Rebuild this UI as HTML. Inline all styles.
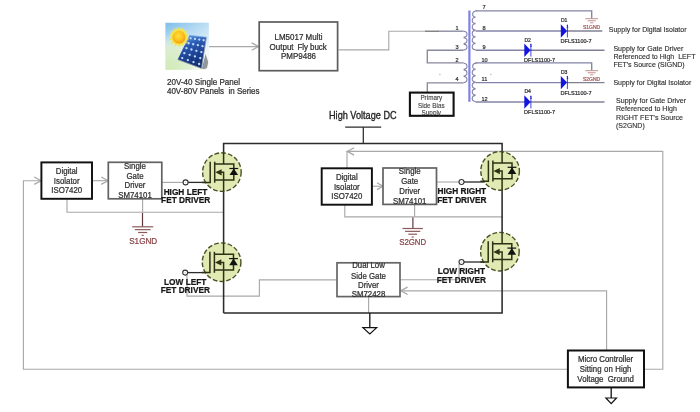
<!DOCTYPE html>
<html lang="en"><head><meta charset="utf-8"><title>Block diagram</title>
<style>
html,body{margin:0;padding:0;background:#fff;}
body{width:700px;height:412px;overflow:hidden;}
svg{display:block;font-family:"Liberation Sans",Arial,sans-serif;filter:blur(0.32px);}
text{white-space:pre;}
</style></head><body>
<svg width="700" height="412" viewBox="0 0 700 412">
<rect width="700" height="412" fill="#fff"/>
<defs>
<linearGradient id="sky" x1="0" y1="0" x2="0" y2="1">
<stop offset="0" stop-color="#7cbde9"/><stop offset="0.3" stop-color="#a9d5f0"/><stop offset="0.6" stop-color="#e4f1f4"/><stop offset="1" stop-color="#f1f7ec"/>
</linearGradient>
<linearGradient id="skyr" x1="0" y1="0" x2="1" y2="0">
<stop offset="0" stop-color="#ffffff" stop-opacity="0"/><stop offset="1" stop-color="#ffffff" stop-opacity="0.5"/>
</linearGradient>
<radialGradient id="grn" cx="0.1" cy="1" r="0.75">
<stop offset="0" stop-color="#cfeab6" stop-opacity="1"/><stop offset="0.6" stop-color="#d8edc6" stop-opacity="0.8"/><stop offset="1" stop-color="#e6f3dc" stop-opacity="0"/>
</radialGradient>
<radialGradient id="glow" cx="0.5" cy="0.5" r="0.5">
<stop offset="0.6" stop-color="#f4ec6a" stop-opacity="0.9"/><stop offset="1" stop-color="#e6f0a0" stop-opacity="0"/>
</radialGradient>
<radialGradient id="sun" cx="0.45" cy="0.4" r="0.62">
<stop offset="0" stop-color="#ffe040"/><stop offset="0.55" stop-color="#fdc41c"/><stop offset="1" stop-color="#f19a14"/>
</radialGradient>
<linearGradient id="pan" x1="0.3" y1="0" x2="0.6" y2="1">
<stop offset="0" stop-color="#5a9ae4"/><stop offset="0.3" stop-color="#2a58b2"/><stop offset="0.7" stop-color="#193a86"/><stop offset="1" stop-color="#122a66"/>
</linearGradient>
</defs>
<g>
<rect x="165.4" y="22.8" width="43.2" height="47" fill="url(#sky)"/>
<rect x="165.4" y="22.8" width="43.2" height="47" fill="url(#skyr)"/>
<rect x="165.4" y="22.8" width="43.2" height="47" fill="url(#grn)"/>
<path d="M201.8,68.6 L205.6,54 L208.2,62 L207,68 L204,69.2 Z" fill="#666c74" opacity="0.7"/>
<path d="M189.4,35.3 L206.4,37.2 L201.5,68.4 L177.7,59.6 Z" fill="url(#pan)"/>
<path d="M206.4,37.2 L201.5,68.4 L177.7,59.6" fill="none" stroke="#8f99a6" stroke-width="0.8" stroke-linejoin="round"/>
<path d="M189.4,35.3 L206.4,37.2" fill="none" stroke="#7fb0e6" stroke-width="0.7"/>
<path d="M191.49,36.33 L181.40,60.09" stroke="#3f6fc4" stroke-width="0.45" opacity="0.7"/>
<path d="M195.69,36.84 L187.16,62.19" stroke="#3f6fc4" stroke-width="0.45" opacity="0.7"/>
<path d="M199.88,37.36 L192.91,64.28" stroke="#3f6fc4" stroke-width="0.45" opacity="0.7"/>
<path d="M204.08,37.87 L198.67,66.38" stroke="#3f6fc4" stroke-width="0.45" opacity="0.7"/>
<path d="M188.67,38.00 L205.34,40.49" stroke="#3f6fc4" stroke-width="0.45" opacity="0.7"/>
<path d="M186.42,42.81 L204.34,46.56" stroke="#3f6fc4" stroke-width="0.45" opacity="0.7"/>
<path d="M184.16,47.61 L203.34,52.64" stroke="#3f6fc4" stroke-width="0.45" opacity="0.7"/>
<path d="M181.91,52.42 L202.34,58.72" stroke="#3f6fc4" stroke-width="0.45" opacity="0.7"/>
<path d="M179.65,57.22 L201.34,64.79" stroke="#3f6fc4" stroke-width="0.45" opacity="0.7"/>
<circle cx="190.66" cy="38.30" r="1.15" fill="#c8e6ff" opacity="0.95"/>
<circle cx="188.55" cy="43.25" r="1.15" fill="#c8e6ff" opacity="0.95"/>
<circle cx="186.45" cy="48.21" r="1.15" fill="#c8e6ff" opacity="0.95"/>
<circle cx="184.34" cy="53.17" r="1.15" fill="#c8e6ff" opacity="0.95"/>
<circle cx="182.24" cy="58.12" r="1.15" fill="#c8e6ff" opacity="0.95"/>
<circle cx="194.98" cy="38.94" r="1.15" fill="#c8e6ff" opacity="0.95"/>
<circle cx="193.20" cy="44.23" r="1.15" fill="#c8e6ff" opacity="0.95"/>
<circle cx="191.42" cy="49.51" r="1.15" fill="#c8e6ff" opacity="0.95"/>
<circle cx="189.64" cy="54.80" r="1.15" fill="#c8e6ff" opacity="0.95"/>
<circle cx="187.86" cy="60.09" r="1.15" fill="#c8e6ff" opacity="0.95"/>
<circle cx="199.31" cy="39.59" r="1.15" fill="#c8e6ff" opacity="0.95"/>
<circle cx="197.85" cy="45.20" r="1.15" fill="#c8e6ff" opacity="0.95"/>
<circle cx="196.40" cy="50.82" r="1.15" fill="#c8e6ff" opacity="0.95"/>
<circle cx="194.94" cy="56.44" r="1.15" fill="#c8e6ff" opacity="0.95"/>
<circle cx="193.49" cy="62.05" r="1.15" fill="#c8e6ff" opacity="0.95"/>
<circle cx="203.63" cy="40.23" r="1.15" fill="#c8e6ff" opacity="0.95"/>
<circle cx="202.50" cy="46.18" r="1.15" fill="#c8e6ff" opacity="0.95"/>
<circle cx="201.37" cy="52.12" r="1.15" fill="#c8e6ff" opacity="0.95"/>
<circle cx="200.24" cy="58.07" r="1.15" fill="#c8e6ff" opacity="0.95"/>
<circle cx="199.11" cy="64.02" r="1.15" fill="#c8e6ff" opacity="0.95"/>
<circle cx="179.0" cy="37.2" r="10.6" fill="url(#glow)"/>
<polygon points="189.00,39.23 185.38,40.08 187.13,43.36 183.50,42.56 183.65,46.28 180.72,43.98 179.25,47.40 177.61,44.06 174.80,46.50 174.77,42.78 171.18,43.75 172.77,40.39 169.11,39.71 172.00,37.37 169.00,35.17 172.62,34.32 170.87,31.04 174.50,31.84 174.35,28.12 177.28,30.42 178.75,27.00 180.39,30.34 183.20,27.90 183.23,31.62 186.82,30.65 185.23,34.01 188.89,34.69 186.00,37.03" fill="#f7e23a" opacity="0.9"/>
<circle cx="179.0" cy="37.2" r="6.4" fill="url(#sun)"/>
</g>
<path d="M209,46.6 L258,46.6" stroke="#a9a9a9" stroke-width="1.15" fill="none" />
<path d="M251.7,42.9 L258.5,46.6 L251.7,50.300000000000004" stroke="#a9a9a9" stroke-width="1.3" fill="none" />
<text transform="translate(167,84.6) scale(1,1.12)" font-size="8.08" fill="#2e2e2e" stroke="#2e2e2e" stroke-width="0.22" text-anchor="start" font-weight="normal" >20V-40 Single Panel</text>
<text transform="translate(167,94.4) scale(1,1.12)" font-size="7.97" fill="#2e2e2e" stroke="#2e2e2e" stroke-width="0.22" text-anchor="start" font-weight="normal" >40V-80V Panels  in Series</text>
<rect x="259.2" y="22" width="78.40000000000003" height="48.7" fill="#fff" stroke="#5c5c5c" stroke-width="1.7"/>
<text transform="translate(298.5,39.7) scale(1,1.12)" font-size="8" fill="#2e2e2e" stroke="#2e2e2e" stroke-width="0.22" text-anchor="middle" font-weight="normal" >LM5017 Multi</text>
<text transform="translate(298.2,49.6) scale(1,1.12)" font-size="8" fill="#2e2e2e" stroke="#2e2e2e" stroke-width="0.22" text-anchor="middle" font-weight="normal" word-spacing="-0.3">Output  Fly buck</text>
<text transform="translate(298.5,59.3) scale(1,1.12)" font-size="8" fill="#2e2e2e" stroke="#2e2e2e" stroke-width="0.22" text-anchor="middle" font-weight="normal" >PMP9486</text>
<path d="M338,49.8 L388.8,49.8 L388.8,31.2 L426,31.2" stroke="#a9a9a9" stroke-width="1.15" fill="none" />
<path d="M469.4,10.5 L469.4,101.8" stroke="#8080e6" stroke-width="2.2" fill="none" />
<path d="M477.1,10.7 C471.40000000000003,10.7 471.40000000000003,17.28333333333333 475.6,16.98333333333333 M475.6,16.98333333333333 C471.1,17.78333333333333 471.1,23.366666666666664 475.6,23.566666666666663 M475.6,23.566666666666666 C471.1,24.366666666666667 471.1,29.95 475.6,30.15 M475.6,30.15 C471.1,30.95 471.1,36.53333333333333 475.6,36.733333333333334 M475.6,36.733333333333334 C471.1,37.53333333333333 471.1,43.11666666666667 475.6,43.31666666666667 M475.6,43.31666666666666 C471.1,44.11666666666666 471.1,49.699999999999996 475.6,49.9" stroke="#8484a8" stroke-width="1.1" fill="none"/>
<path d="M477.1,62.9 C471.40000000000003,62.9 471.40000000000003,69.4 475.6,69.10000000000001 M475.6,69.10000000000001 C471.1,69.9 471.1,75.4 475.6,75.60000000000001 M475.6,75.60000000000001 C471.1,76.4 471.1,81.9 475.6,82.10000000000001 M475.6,82.10000000000001 C471.1,82.9 471.1,88.4 475.6,88.60000000000001 M475.6,88.60000000000001 C471.1,89.4 471.1,94.9 475.6,95.10000000000001 M475.6,95.10000000000001 C471.1,95.9 471.1,101.4 475.6,101.60000000000001" stroke="#8484a8" stroke-width="1.1" fill="none"/>
<path d=" M463.6,31.3 C468.1,31.5 468.1,36.9 463.6,37.1 M463.6,37.699999999999996 C468.1,37.9 468.1,43.3 463.6,43.5 M463.6,44.1 C468.1,44.300000000000004 468.1,49.7 463.6,49.900000000000006" stroke="#8484a8" stroke-width="1.1" fill="none"/>
<path d=" M463.6,63.199999999999996 C468.1,63.4 468.1,69.06666666666666 463.6,69.26666666666667 M463.6,69.86666666666666 C468.1,70.06666666666666 468.1,75.73333333333333 463.6,75.93333333333334 M463.6,76.53333333333333 C468.1,76.73333333333333 468.1,82.4 463.6,82.60000000000001" stroke="#8484a8" stroke-width="1.1" fill="none"/>
<path d="M438,31.2 L463.6,31.2" stroke="#88889e" stroke-width="1.35" fill="none" />
<path d="M425.2,31.2 L438.5,31.2" stroke="#666" stroke-width="1.2" fill="none" />
<path d="M463.6,50.2 L427.3,50.2 L427.3,62.9 L463.6,62.9" stroke="#88889e" stroke-width="1.35" fill="none" />
<path d="M463.6,82.9 L427.3,82.9 L427.3,92" stroke="#88889e" stroke-width="1.35" fill="none" />
<path d="M475.6,10.8 L591.7,10.8 L591.7,18.6" stroke="#8484a8" stroke-width="1.35" fill="none" />
<path d="M475.6,31 L561,31" stroke="#8484a8" stroke-width="1.35" fill="none" />
<path d="M567,31 L602.3,31" stroke="#808094" stroke-width="1.35" fill="none" />
<path d="M475.6,50.2 L525,50.2" stroke="#8484a8" stroke-width="1.35" fill="none" />
<path d="M530,50.2 L604.5,50.2" stroke="#808094" stroke-width="1.35" fill="none" />
<path d="M475.6,62.9 L591.7,62.9 L591.7,70.6" stroke="#8484a8" stroke-width="1.35" fill="none" />
<path d="M475.6,82.6 L561,82.6" stroke="#8484a8" stroke-width="1.35" fill="none" />
<path d="M567,82.6 L604.5,82.6" stroke="#808094" stroke-width="1.35" fill="none" />
<path d="M475.6,102 L525,102" stroke="#8484a8" stroke-width="1.35" fill="none" />
<path d="M530,102 L604.5,102" stroke="#808094" stroke-width="1.35" fill="none" />
<text transform="translate(455.5,29.6) scale(1,1.12)" font-size="5.6" fill="#333" stroke="#333" stroke-width="0.22" text-anchor="start" font-weight="normal" >1</text>
<text transform="translate(455.5,48.8) scale(1,1.12)" font-size="5.6" fill="#333" stroke="#333" stroke-width="0.22" text-anchor="start" font-weight="normal" >3</text>
<text transform="translate(455.5,61.5) scale(1,1.12)" font-size="5.6" fill="#333" stroke="#333" stroke-width="0.22" text-anchor="start" font-weight="normal" >2</text>
<text transform="translate(455.5,81) scale(1,1.12)" font-size="5.6" fill="#333" stroke="#333" stroke-width="0.22" text-anchor="start" font-weight="normal" >4</text>
<text transform="translate(482.5,9.3) scale(1,1.12)" font-size="5.6" fill="#333" stroke="#333" stroke-width="0.22" text-anchor="start" font-weight="normal" >7</text>
<text transform="translate(482.5,29.6) scale(1,1.12)" font-size="5.6" fill="#333" stroke="#333" stroke-width="0.22" text-anchor="start" font-weight="normal" >8</text>
<text transform="translate(482.5,48.8) scale(1,1.12)" font-size="5.6" fill="#333" stroke="#333" stroke-width="0.22" text-anchor="start" font-weight="normal" >9</text>
<text transform="translate(481.5,61.5) scale(1,1.12)" font-size="5.6" fill="#333" stroke="#333" stroke-width="0.22" text-anchor="start" font-weight="normal" >10</text>
<text transform="translate(481.5,81) scale(1,1.12)" font-size="5.6" fill="#333" stroke="#333" stroke-width="0.22" text-anchor="start" font-weight="normal" >11</text>
<text transform="translate(481.5,100.6) scale(1,1.12)" font-size="5.6" fill="#333" stroke="#333" stroke-width="0.22" text-anchor="start" font-weight="normal" >12</text>
<path d="M560.8,24.3 L567.0999999999999,31 L560.8,37.7 Z" fill="#1414e0"/>
<path d="M567.4,24.6 L567.4,37.4" stroke="#1414e0" stroke-width="0.8" fill="none" />
<text transform="translate(560.9,22.3) scale(1,1.12)" font-size="5.1" fill="#2a2a2a" stroke="#2a2a2a" stroke-width="0.2" text-anchor="start" font-weight="normal" >D1</text>
<text transform="translate(560.5,43.0) scale(1,1.12)" font-size="5.55" fill="#2a2a2a" stroke="#2a2a2a" stroke-width="0.2" text-anchor="start" font-weight="normal" >DFLS1100-7</text>
<text transform="translate(566.4,27.5) scale(1,1.12)" font-size="3.5" fill="#1414e0" stroke="#1414e0" stroke-width="0.22" text-anchor="start" font-weight="normal" >1</text>
<path d="M524.3,43.5 L530.5999999999999,50.2 L524.3,56.900000000000006 Z" fill="#1414e0"/>
<path d="M530.9,43.800000000000004 L530.9,56.6" stroke="#1414e0" stroke-width="0.8" fill="none" />
<text transform="translate(524.4,41.5) scale(1,1.12)" font-size="5.1" fill="#2a2a2a" stroke="#2a2a2a" stroke-width="0.2" text-anchor="start" font-weight="normal" >D2</text>
<text transform="translate(524.0,62.2) scale(1,1.12)" font-size="5.55" fill="#2a2a2a" stroke="#2a2a2a" stroke-width="0.2" text-anchor="start" font-weight="normal" >DFLS1100-7</text>
<text transform="translate(529.9,46.7) scale(1,1.12)" font-size="3.5" fill="#1414e0" stroke="#1414e0" stroke-width="0.22" text-anchor="start" font-weight="normal" >1</text>
<path d="M560.8,75.89999999999999 L567.0999999999999,82.6 L560.8,89.3 Z" fill="#1414e0"/>
<path d="M567.4,76.19999999999999 L567.4,89.0" stroke="#1414e0" stroke-width="0.8" fill="none" />
<text transform="translate(560.9,73.9) scale(1,1.12)" font-size="5.1" fill="#2a2a2a" stroke="#2a2a2a" stroke-width="0.2" text-anchor="start" font-weight="normal" >D3</text>
<text transform="translate(560.5,94.6) scale(1,1.12)" font-size="5.55" fill="#2a2a2a" stroke="#2a2a2a" stroke-width="0.2" text-anchor="start" font-weight="normal" >DFLS1100-7</text>
<text transform="translate(566.4,79.1) scale(1,1.12)" font-size="3.5" fill="#1414e0" stroke="#1414e0" stroke-width="0.22" text-anchor="start" font-weight="normal" >1</text>
<path d="M524.3,95.3 L530.5999999999999,102 L524.3,108.7 Z" fill="#1414e0"/>
<path d="M530.9,95.6 L530.9,108.4" stroke="#1414e0" stroke-width="0.8" fill="none" />
<text transform="translate(524.4,93.3) scale(1,1.12)" font-size="5.1" fill="#2a2a2a" stroke="#2a2a2a" stroke-width="0.2" text-anchor="start" font-weight="normal" >D4</text>
<text transform="translate(524.0,114.0) scale(1,1.12)" font-size="5.55" fill="#2a2a2a" stroke="#2a2a2a" stroke-width="0.2" text-anchor="start" font-weight="normal" >DFLS1100-7</text>
<text transform="translate(529.9,98.5) scale(1,1.12)" font-size="3.5" fill="#1414e0" stroke="#1414e0" stroke-width="0.22" text-anchor="start" font-weight="normal" >1</text>
<path d="M585.4000000000001,18.7 L598.0,18.7" stroke="#c09090" stroke-width="1.0" fill="none" />
<path d="M587.7,20.75 L595.7,20.75" stroke="#c09090" stroke-width="1.0" fill="none" />
<path d="M590.1,22.799999999999997 L593.3000000000001,22.799999999999997" stroke="#c09090" stroke-width="1.0" fill="none" />
<path d="M585.4000000000001,70.7 L598.0,70.7" stroke="#c09090" stroke-width="1.0" fill="none" />
<path d="M587.7,72.75 L595.7,72.75" stroke="#c09090" stroke-width="1.0" fill="none" />
<path d="M590.1,74.8 L593.3000000000001,74.8" stroke="#c09090" stroke-width="1.0" fill="none" />
<text transform="translate(591.5,29.0) scale(1,1.12)" font-size="5" fill="#a05858" stroke="#a05858" stroke-width="0.22" text-anchor="middle" font-weight="normal" >S1GND</text>
<text transform="translate(591.5,81.1) scale(1,1.12)" font-size="5" fill="#a05858" stroke="#a05858" stroke-width="0.22" text-anchor="middle" font-weight="normal" >S2GND</text>
<text transform="translate(608.8,32.2) scale(1,1.12)" font-size="7.0" fill="#2e2e2e" stroke="#2e2e2e" stroke-width="0.12" text-anchor="start" font-weight="normal" >Supply for Digital Isolator</text>
<text transform="translate(613.4,50.8) scale(1,1.12)" font-size="7.08" fill="#2e2e2e" stroke="#2e2e2e" stroke-width="0.12" text-anchor="start" font-weight="normal" >Supply for Gate Driver</text>
<text transform="translate(613.4,59.2) scale(1,1.12)" font-size="7.08" fill="#2e2e2e" stroke="#2e2e2e" stroke-width="0.12" text-anchor="start" font-weight="normal" >Referenced to High  LEFT</text>
<text transform="translate(613.4,67.4) scale(1,1.12)" font-size="7.05" fill="#2e2e2e" stroke="#2e2e2e" stroke-width="0.12" text-anchor="start" font-weight="normal" >FET's Source (SIGND)</text>
<text transform="translate(613.4,84.5) scale(1,1.12)" font-size="7.02" fill="#2e2e2e" stroke="#2e2e2e" stroke-width="0.12" text-anchor="start" font-weight="normal" >Supply for Digital Isolator</text>
<text transform="translate(616,102.9) scale(1,1.12)" font-size="7.1" fill="#2e2e2e" stroke="#2e2e2e" stroke-width="0.12" text-anchor="start" font-weight="normal" >Supply for Gate Driver</text>
<text transform="translate(616,111.4) scale(1,1.12)" font-size="7.08" fill="#2e2e2e" stroke="#2e2e2e" stroke-width="0.12" text-anchor="start" font-weight="normal" >Referenced to High</text>
<text transform="translate(616,119.6) scale(1,1.12)" font-size="7.14" fill="#2e2e2e" stroke="#2e2e2e" stroke-width="0.12" text-anchor="start" font-weight="normal" >RIGHT FET's Source</text>
<text transform="translate(616,127.8) scale(1,1.12)" font-size="7.0" fill="#2e2e2e" stroke="#2e2e2e" stroke-width="0.12" text-anchor="start" font-weight="normal" >(S2GND)</text>
<rect x="409.9" y="92.6" width="43.700000000000045" height="23.200000000000003" fill="#fff" stroke="#111" stroke-width="2.1"/>
<text transform="translate(431.3,99.6) scale(1,1.12)" font-size="6.35" fill="#444" stroke="#444" stroke-width="0.12" text-anchor="middle" font-weight="normal" >Primary</text>
<text transform="translate(431.3,107.8) scale(1,1.12)" font-size="6.35" fill="#444" stroke="#444" stroke-width="0.12" text-anchor="middle" font-weight="normal" >Side Bias</text>
<text transform="translate(431.3,114.6) scale(1,1.12)" font-size="6.35" fill="#444" stroke="#444" stroke-width="0.12" text-anchor="middle" font-weight="normal" >Supply</text>
<circle cx="439.9" cy="74.5" r="0.7" fill="#b8b8b8"/><circle cx="490.8" cy="74.5" r="0.7" fill="#b8b8b8"/>
<text transform="translate(329,119.2) scale(1,1.15)" font-size="9.15" fill="#222" stroke="#222" stroke-width="0.28" text-anchor="start" font-weight="normal" >High Voltage DC</text>
<path d="M345.2,127 L381.2,127" stroke="#2b2b2b" stroke-width="1.25" fill="none" />
<path d="M363.3,127 L363.3,143.5" stroke="#2b2b2b" stroke-width="1.25" fill="none" />
<path d="M40,180.7 L23.4,180.7 L23.4,369.2 L567.7,369.2" stroke="#a9a9a9" stroke-width="1.15" fill="none" />
<path d="M34.2,177.0 L41,180.7 L34.2,184.39999999999998" stroke="#a9a9a9" stroke-width="1.3" fill="none" />
<path d="M644,369.2 L662.8,369.2 L662.8,151.4 L347,151.4 L347,168" stroke="#a9a9a9" stroke-width="1.15" fill="none" />
<path d="M354.1,147.70000000000002 L347.3,151.4 L354.1,155.1" stroke="#a9a9a9" stroke-width="1.3" fill="none" />
<path d="M606.6,350 L606.6,290.8 L400.5,290.8" stroke="#a9a9a9" stroke-width="1.15" fill="none" />
<path d="M407.6,287.1 L400.8,290.8 L407.6,294.5" stroke="#a9a9a9" stroke-width="1.3" fill="none" />
<path d="M92.5,180.7 L107.5,180.7" stroke="#a9a9a9" stroke-width="1.15" fill="none" />
<path d="M101.2,177.0 L108,180.7 L101.2,184.39999999999998" stroke="#a9a9a9" stroke-width="1.3" fill="none" />
<path d="M67,199.5 L67,212.2 L223.8,212.2" stroke="#a9a9a9" stroke-width="1.15" fill="none" />
<path d="M142.6,199 L142.6,212" stroke="#a9a9a9" stroke-width="1.15" fill="none" />
<path d="M142.5,213 L142.5,226.8" stroke="#5e3a3c" stroke-width="1.2" fill="none" />
<path d="M132.2,226.8 L153.2,226.8" stroke="#8c5a5c" stroke-width="1.2" fill="none" />
<path d="M134.79999999999998,229.65 L150.6,229.65" stroke="#8c5a5c" stroke-width="1.2" fill="none" />
<path d="M138.1,232.5 L147.29999999999998,232.5" stroke="#8c5a5c" stroke-width="1.2" fill="none" />
<path d="M141.7,235.35000000000002 L143.7,235.35000000000002" stroke="#8c5a5c" stroke-width="1.2" fill="none" />
<text transform="translate(143.2,243.7) scale(1,1.12)" font-size="8.15" fill="#8a4246" stroke="#8a4246" stroke-width="0.22" text-anchor="middle" font-weight="normal" >S1GND</text>
<path d="M162,182.4 L183,182.4" stroke="#a9a9a9" stroke-width="1.15" fill="none" />
<path d="M188,182.4 L211,182.4" stroke="#2b2b2b" stroke-width="1.3" fill="none" />
<path d="M372.5,186.2 L382.5,186.2" stroke="#a9a9a9" stroke-width="1.15" fill="none" />
<path d="M377,182.79999999999998 L383,186.2 L377,189.6" stroke="#a9a9a9" stroke-width="1.3" fill="none" />
<path d="M344.8,205 L344.8,216.8 L502.5,216.8" stroke="#a9a9a9" stroke-width="1.15" fill="none" />
<path d="M414.6,204.5 L414.6,216.8" stroke="#a9a9a9" stroke-width="1.15" fill="none" />
<path d="M412.9,217.5 L412.9,228.5" stroke="#5e3a3c" stroke-width="1.2" fill="none" />
<path d="M402.5,228.5 L422.9,228.5" stroke="#8c5a5c" stroke-width="1.2" fill="none" />
<path d="M405.09999999999997,231.35 L420.3,231.35" stroke="#8c5a5c" stroke-width="1.2" fill="none" />
<path d="M408.3,234.2 L417.09999999999997,234.2" stroke="#8c5a5c" stroke-width="1.2" fill="none" />
<path d="M411.7,237.05 L413.7,237.05" stroke="#8c5a5c" stroke-width="1.2" fill="none" />
<text transform="translate(412.6,245.3) scale(1,1.12)" font-size="7.8" fill="#8a4246" stroke="#8a4246" stroke-width="0.22" text-anchor="middle" font-weight="normal" >S2GND</text>
<path d="M437,182 L459,182" stroke="#a9a9a9" stroke-width="1.15" fill="none" />
<path d="M464,182 L489,182" stroke="#2b2b2b" stroke-width="1.3" fill="none" />
<path d="M187,275 L187,296.1 L259.4,296.1 L259.4,279.8 L337,279.8" stroke="#a9a9a9" stroke-width="1.15" fill="none" />
<path d="M188,272.6 L211,272.6" stroke="#2b2b2b" stroke-width="1.3" fill="none" />
<path d="M400,279.7 L459,279.7 L459,264" stroke="#a9a9a9" stroke-width="1.15" fill="none" />
<path d="M464,262 L489,262" stroke="#2b2b2b" stroke-width="1.3" fill="none" />
<path d="M368.6,296.5 L368.6,312.9" stroke="#a9a9a9" stroke-width="1.15" fill="none" />
<path d="M223.6,312.9 L223.6,143.5 L502.1,143.5 L502.1,312.9 L223.6,312.9" stroke="#2b2b2b" stroke-width="1.55" fill="none" stroke-linejoin="miter"/>
<rect x="41.4" y="162.4" width="50.6" height="36.400000000000006" fill="#fff" stroke="#111" stroke-width="1.95"/>
<text transform="translate(66.7,173.5) scale(1,1.12)" font-size="7.85" fill="#2e2e2e" stroke="#2e2e2e" stroke-width="0.22" text-anchor="middle" font-weight="normal" >Digital</text>
<text transform="translate(66.7,183.9) scale(1,1.12)" font-size="7.85" fill="#2e2e2e" stroke="#2e2e2e" stroke-width="0.22" text-anchor="middle" font-weight="normal" >Isolator</text>
<text transform="translate(66.7,193) scale(1,1.12)" font-size="7.85" fill="#2e2e2e" stroke="#2e2e2e" stroke-width="0.22" text-anchor="middle" font-weight="normal" >ISO7420</text>
<rect x="108.3" y="162.3" width="53.500000000000014" height="36.5" fill="#fff" stroke="#626262" stroke-width="1.7"/>
<clipPath id="c1"><rect x="100" y="161.5" width="80" height="50"/></clipPath><g clip-path="url(#c1)">
<text transform="translate(135,168.9) scale(1,1.12)" font-size="7.85" fill="#2e2e2e" stroke="#2e2e2e" stroke-width="0.22" text-anchor="middle" font-weight="normal" >Single</text>
<text transform="translate(135,178.5) scale(1,1.12)" font-size="7.85" fill="#2e2e2e" stroke="#2e2e2e" stroke-width="0.22" text-anchor="middle" font-weight="normal" >Gate</text>
<text transform="translate(135,188.3) scale(1,1.12)" font-size="7.85" fill="#2e2e2e" stroke="#2e2e2e" stroke-width="0.22" text-anchor="middle" font-weight="normal" >Driver</text>
<text transform="translate(135,197.8) scale(1,1.12)" font-size="7.85" fill="#2e2e2e" stroke="#2e2e2e" stroke-width="0.22" text-anchor="middle" font-weight="normal" >SM74101</text>
</g>
<rect x="321.7" y="168.3" width="50.19999999999999" height="36.39999999999998" fill="#fff" stroke="#111" stroke-width="1.95"/>
<text transform="translate(346.8,179.7) scale(1,1.12)" font-size="7.85" fill="#2e2e2e" stroke="#2e2e2e" stroke-width="0.22" text-anchor="middle" font-weight="normal" >Digital</text>
<text transform="translate(346.8,189.5) scale(1,1.12)" font-size="7.85" fill="#2e2e2e" stroke="#2e2e2e" stroke-width="0.22" text-anchor="middle" font-weight="normal" >Isolator</text>
<text transform="translate(346.8,199.3) scale(1,1.12)" font-size="7.85" fill="#2e2e2e" stroke="#2e2e2e" stroke-width="0.22" text-anchor="middle" font-weight="normal" >ISO7420</text>
<rect x="383" y="168" width="53.5" height="36.400000000000006" fill="#fff" stroke="#626262" stroke-width="1.7"/>
<clipPath id="c2"><rect x="380" y="167.2" width="80" height="50"/></clipPath><g clip-path="url(#c2)">
<text transform="translate(409.7,174.3) scale(1,1.12)" font-size="7.85" fill="#2e2e2e" stroke="#2e2e2e" stroke-width="0.22" text-anchor="middle" font-weight="normal" >Single</text>
<text transform="translate(409.7,184) scale(1,1.12)" font-size="7.85" fill="#2e2e2e" stroke="#2e2e2e" stroke-width="0.22" text-anchor="middle" font-weight="normal" >Gate</text>
<text transform="translate(409.7,193.7) scale(1,1.12)" font-size="7.85" fill="#2e2e2e" stroke="#2e2e2e" stroke-width="0.22" text-anchor="middle" font-weight="normal" >Driver</text>
<text transform="translate(409.7,203.8) scale(1,1.12)" font-size="7.85" fill="#2e2e2e" stroke="#2e2e2e" stroke-width="0.22" text-anchor="middle" font-weight="normal" >SM74101</text>
</g>
<rect x="337" y="262.8" width="63" height="33.80000000000001" fill="#fff" stroke="#666" stroke-width="1.7"/>
<clipPath id="c3"><rect x="330" y="262" width="80" height="50"/></clipPath><g clip-path="url(#c3)">
<text transform="translate(368.5,268) scale(1,1.12)" font-size="7.85" fill="#2e2e2e" stroke="#2e2e2e" stroke-width="0.22" text-anchor="middle" font-weight="normal" >Dual Low</text>
<text transform="translate(368.5,278.5) scale(1,1.12)" font-size="7.85" fill="#2e2e2e" stroke="#2e2e2e" stroke-width="0.22" text-anchor="middle" font-weight="normal" >Side Gate</text>
<text transform="translate(368.5,288.2) scale(1,1.12)" font-size="7.85" fill="#2e2e2e" stroke="#2e2e2e" stroke-width="0.22" text-anchor="middle" font-weight="normal" >Driver</text>
<text transform="translate(368.5,297.2) scale(1,1.12)" font-size="7.85" fill="#2e2e2e" stroke="#2e2e2e" stroke-width="0.22" text-anchor="middle" font-weight="normal" >SM72428</text>
</g>
<rect x="567.9" y="350.5" width="76.10000000000002" height="36.89999999999998" fill="#fff" stroke="#111" stroke-width="2"/>
<text transform="translate(605.6,362) scale(1,1.12)" font-size="7.83" fill="#2e2e2e" stroke="#2e2e2e" stroke-width="0.22" text-anchor="middle" font-weight="normal" >Micro Controller</text>
<text transform="translate(605.6,372) scale(1,1.12)" font-size="7.83" fill="#2e2e2e" stroke="#2e2e2e" stroke-width="0.22" text-anchor="middle" font-weight="normal" word-spacing="0.4">Sitting on High</text>
<text transform="translate(605.6,381.6) scale(1,1.12)" font-size="7.83" fill="#2e2e2e" stroke="#2e2e2e" stroke-width="0.22" text-anchor="middle" font-weight="normal" >Voltage  Ground</text>
<circle cx="221.9" cy="172.1" r="19.3" fill="#e1eab2" stroke="#4a4f26" stroke-width="1.4" stroke-dasharray="4.7 2.2"/>
<path d="M202.20000000000002,182.5 L210.20000000000002,182.5 L210.20000000000002,161.7" stroke="#2e3114" stroke-width="1.5" fill="none" />
<path d="M214.70000000000002,161.7 L214.70000000000002,182.7" stroke="#2e3114" stroke-width="1.5" fill="none" />
<path d="M214.70000000000002,164.1 L233.8,164.1 L233.8,180.0 L214.70000000000002,180.0" stroke="#2e3114" stroke-width="1.5" fill="none" />
<path d="M223.6,152.79999999999998 L223.6,164.1" stroke="#2e3114" stroke-width="1.5" fill="none" />
<path d="M223.6,180.0 L223.6,191.4" stroke="#2e3114" stroke-width="1.5" fill="none" />
<path d="M218.70000000000002,172.29999999999998 L223.6,172.29999999999998 L223.6,180.0" stroke="#2e3114" stroke-width="1.5" fill="none" />
<path d="M215.3,172.29999999999998 l6.3,-3.1 v6.2 z" fill="#2e3114"/>
<path d="M233.8,168.4 l4.3,6.7 h-8.6 z" fill="#111"/>
<path d="M229.4,168.5 L238.20000000000002,168.5" stroke="#111" stroke-width="1.2" fill="none" />
<circle cx="221.6" cy="262.2" r="19.3" fill="#e1eab2" stroke="#4a4f26" stroke-width="1.4" stroke-dasharray="4.7 2.2"/>
<path d="M201.9,272.59999999999997 L209.9,272.59999999999997 L209.9,251.79999999999998" stroke="#2e3114" stroke-width="1.5" fill="none" />
<path d="M214.4,251.79999999999998 L214.4,272.8" stroke="#2e3114" stroke-width="1.5" fill="none" />
<path d="M214.4,254.2 L233.5,254.2 L233.5,270.09999999999997 L214.4,270.09999999999997" stroke="#2e3114" stroke-width="1.5" fill="none" />
<path d="M223.6,242.89999999999998 L223.6,254.2" stroke="#2e3114" stroke-width="1.5" fill="none" />
<path d="M223.6,270.09999999999997 L223.6,281.5" stroke="#2e3114" stroke-width="1.5" fill="none" />
<path d="M218.4,262.4 L223.6,262.4 L223.6,270.09999999999997" stroke="#2e3114" stroke-width="1.5" fill="none" />
<path d="M215.0,262.4 l6.3,-3.1 v6.2 z" fill="#2e3114"/>
<path d="M233.5,258.5 l4.3,6.7 h-8.6 z" fill="#111"/>
<path d="M229.1,258.59999999999997 L237.9,258.59999999999997" stroke="#111" stroke-width="1.2" fill="none" />
<circle cx="500.1" cy="170.9" r="19.3" fill="#e1eab2" stroke="#4a4f26" stroke-width="1.4" stroke-dasharray="4.7 2.2"/>
<path d="M480.40000000000003,181.3 L488.40000000000003,181.3 L488.40000000000003,160.5" stroke="#2e3114" stroke-width="1.5" fill="none" />
<path d="M492.90000000000003,160.5 L492.90000000000003,181.5" stroke="#2e3114" stroke-width="1.5" fill="none" />
<path d="M492.90000000000003,162.9 L512.0,162.9 L512.0,178.8 L492.90000000000003,178.8" stroke="#2e3114" stroke-width="1.5" fill="none" />
<path d="M502.1,151.6 L502.1,162.9" stroke="#2e3114" stroke-width="1.5" fill="none" />
<path d="M502.1,178.8 L502.1,190.20000000000002" stroke="#2e3114" stroke-width="1.5" fill="none" />
<path d="M496.90000000000003,171.1 L502.1,171.1 L502.1,178.8" stroke="#2e3114" stroke-width="1.5" fill="none" />
<path d="M493.50000000000006,171.1 l6.3,-3.1 v6.2 z" fill="#2e3114"/>
<path d="M512.0,167.20000000000002 l4.3,6.7 h-8.6 z" fill="#111"/>
<path d="M507.6,167.3 L516.4,167.3" stroke="#111" stroke-width="1.2" fill="none" />
<circle cx="499.9" cy="251.7" r="19.3" fill="#e1eab2" stroke="#4a4f26" stroke-width="1.4" stroke-dasharray="4.7 2.2"/>
<path d="M480.2,262.09999999999997 L488.2,262.09999999999997 L488.2,241.29999999999998" stroke="#2e3114" stroke-width="1.5" fill="none" />
<path d="M492.7,241.29999999999998 L492.7,262.3" stroke="#2e3114" stroke-width="1.5" fill="none" />
<path d="M492.7,243.7 L511.79999999999995,243.7 L511.79999999999995,259.59999999999997 L492.7,259.59999999999997" stroke="#2e3114" stroke-width="1.5" fill="none" />
<path d="M502.1,232.39999999999998 L502.1,243.7" stroke="#2e3114" stroke-width="1.5" fill="none" />
<path d="M502.1,259.59999999999997 L502.1,271.0" stroke="#2e3114" stroke-width="1.5" fill="none" />
<path d="M496.7,251.89999999999998 L502.1,251.89999999999998 L502.1,259.59999999999997" stroke="#2e3114" stroke-width="1.5" fill="none" />
<path d="M493.3,251.89999999999998 l6.3,-3.1 v6.2 z" fill="#2e3114"/>
<path d="M511.79999999999995,248.0 l4.3,6.7 h-8.6 z" fill="#111"/>
<path d="M507.4,248.1 L516.1999999999999,248.1" stroke="#111" stroke-width="1.2" fill="none" />
<circle cx="185.6" cy="182.4" r="2.5" fill="#fff" stroke="#333" stroke-width="1.1"/>
<circle cx="185.6" cy="182.4" r="0.5" fill="#aaa"/>
<circle cx="185.2" cy="272.6" r="2.5" fill="#fff" stroke="#333" stroke-width="1.1"/>
<circle cx="185.2" cy="272.6" r="0.5" fill="#aaa"/>
<circle cx="461.5" cy="182" r="2.5" fill="#fff" stroke="#333" stroke-width="1.1"/>
<circle cx="461.5" cy="182" r="0.5" fill="#aaa"/>
<circle cx="461.5" cy="262" r="2.5" fill="#fff" stroke="#333" stroke-width="1.1"/>
<circle cx="461.5" cy="262" r="0.5" fill="#aaa"/>
<text transform="translate(185.5,194.9) scale(1,1.03)" font-size="8.3" fill="#161616" stroke="#161616" stroke-width="0.22" text-anchor="middle" font-weight="bold" >HIGH LEFT</text>
<text transform="translate(185.7,202.7) scale(1,1.03)" font-size="8.3" fill="#161616" stroke="#161616" stroke-width="0.22" text-anchor="middle" font-weight="bold" >FET DRIVER</text>
<text transform="translate(185.2,284.6) scale(1,1.03)" font-size="8.3" fill="#161616" stroke="#161616" stroke-width="0.22" text-anchor="middle" font-weight="bold" >LOW LEFT</text>
<text transform="translate(185.3,293.3) scale(1,1.03)" font-size="8.3" fill="#161616" stroke="#161616" stroke-width="0.22" text-anchor="middle" font-weight="bold" >FET DRIVER</text>
<text transform="translate(461.8,193.8) scale(1,1.03)" font-size="8.3" fill="#161616" stroke="#161616" stroke-width="0.22" text-anchor="middle" font-weight="bold" >HIGH RIGHT</text>
<text transform="translate(461.8,202.5) scale(1,1.03)" font-size="8.3" fill="#161616" stroke="#161616" stroke-width="0.22" text-anchor="middle" font-weight="bold" >FET DRIVER</text>
<text transform="translate(461.4,273.8) scale(1,1.03)" font-size="8.3" fill="#161616" stroke="#161616" stroke-width="0.22" text-anchor="middle" font-weight="bold" >LOW RIGHT</text>
<text transform="translate(461.4,282.5) scale(1,1.03)" font-size="8.3" fill="#161616" stroke="#161616" stroke-width="0.22" text-anchor="middle" font-weight="bold" >FET DRIVER</text>
<path d="M369.8,313 L369.8,327.6" stroke="#111" stroke-width="1.3" fill="none" />
<path d="M362.90000000000003,327.6 H376.7 L369.8,334 Z" fill="#fff" stroke="#111" stroke-width="1.2" stroke-linejoin="miter"/>
<path d="M611.2,387.5 L611.2,398" stroke="#111" stroke-width="1.3" fill="none" />
<path d="M605.9000000000001,398 H616.5 L611.2,403.7 Z" fill="#fff" stroke="#111" stroke-width="1.2" stroke-linejoin="miter"/>
</svg>
</body></html>
